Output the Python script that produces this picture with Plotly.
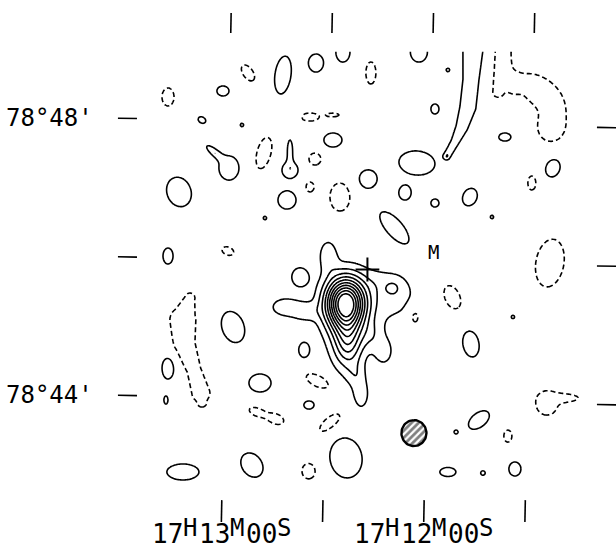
import re
import numpy as np
import plotly.graph_objects as go

# Map centre: RA 17h12m00s, Dec +78d46m00s.  Offsets in arcsec, east and north positive.
DEC0_DEG = 78 + 46 / 60
GRID_ROT_DEG = 1.1          # sky grid rotation relative to the map axes

# Contour levels, in units of the lowest contour
pos_levels = [1, 2, 3, 4, 5, 6, 7, 8, 9, 10]
neg_levels = [-1]

# Main radio source: elliptical Gaussian components
# (x, y offset in arcsec, peak, sigma along major / minor axis in arcsec, PA in deg N through E)
src_x    = [72.2, 70.0, 71.7, 87.3, 124.6, 107.3, 32.0, 31.0, 45.0, 38.8, 49.2, 58.7, 63.1]
src_y    = [-34.9, -68.7, -54.0, 6.7, -38.4, -42.7, -27.5, -22.0, -17.6, -77.4, -62.6, -114.6, -97.3]
src_peak = [10.3, 3.5, 1.0, 1.6, 1.6, 1.3, 1.3, 1.0, 0.3, 1.4, 1.0, 1.6, 1.0]
src_smaj = [15.2, 15.6, 30.3, 10.4, 10.4, 8.0, 22.0, 5.0, 8.0, 8.7, 9.0, 9.5, 8.0]
src_smin = [11.8, 8.7, 17.3, 6.0, 6.9, 6.0, 21.0, 5.0, 6.0, 6.0, 7.0, 5.2, 6.0]
src_pa   = [0, 0, 0, 0, 90, 90, 90, 0, 90, 0, 0, 0, 0]

# Compact features across the field (positive and negative)
blob_x = [225.9, 178.3, 156.6, 126.3, 97.7, 74.3, 50.1, 8.5, -16.6, -84.2,
          -66.0, -107.6, -89.4, -35.7, -54.8, -105.0, 196.5, 161.8, 112.4, 102.9,
          83.0, -5.4, 83.0, 173.1, 186.1, 142.8, 120.2, 120.2, 98.6, 10.2,
          216.4, 122.8, 141.9, 52.7, 102.9, 76.9, 20.6, -5.4, 30.1, 225.9,
          174.0, 111.6, 11.9, -20.1, -73.0, -36.6, -102.4, -118.9, -43.5, -23.6,
          -68.6, -74.7, -47.0, -16.6, 225.9, 227.7, 169.6, 146.2, 148.8, 132.4,
          213.0, 153.2, 71.7, 85.6, 96.0, 103.8, 103.8, 108.1, -97.2, -73.0,
          -105.9, -110.2]
blob_y = [143.6, 148.8, 164.4, 162.6, 173.0, 182.5, 164.4, 182.5, 167.0, 129.7,
          108.9, 82.0, 69.1, 56.9, 39.6, -0.3, 123.6, 119.3, 128.0, 126.2,
          128.0, 133.2, 106.3, 82.0, 95.9, 95.0, 80.3, 97.6, 89.8, 86.4,
          61.3, 54.3, 38.7, 72.5, 65.6, 56.9, 60.4, 51.7, 30.9, 5.8,
          10.1, -12.4, -47.0, -29.7, -47.0, -70.4, -121.6, -117.2, -136.3, -146.7,
          -150.2, -178.7, -182.2, -181.3, -91.2, -119.0, -55.7, -104.2, -129.4, -135.4,
          -181.3, -175.3, -169.2, -138.9, -102.5, -123.3, -180.5, -75.6, 147.9, 154.8,
          116.5, 130.5]
blob_peak = [-1.8, 1.8, -1.8, 1.8, 1.8, 1.8, -1.8, 1.8, 1.3, 1.3,
             1.8, 1.8, -1.8, 1.8, 1.3, -1.8, 1.8, 1.3, 1.3, -1.8,
             -1.8, 1.8, 1.8, 1.8, 1.8, -1.8, 1.8, 1.8, -1.8, 1.8,
             1.8, 1.8, 1.3, 1.8, -1.8, -1.8, 1.8, 1.8, 1.8, 1.8,
             -1.8, 1.8, -1.8, -1.8, 1.3, 1.8, -1.8, -1.8, 1.8, 1.3,
             -1.8, 1.8, 1.4, 1.8, 1.8, 1.8, 1.8, 1.8, -1.8, -1.8,
             1.8, 1.8, 1.8, -1.8, -1.8, 1.8, -1.8, 1.8, -1.8, -1.8,
             -1.8, -1.0]
blob_smaj = [7.2, 4.8, 7.2, 15.2, 7.2, 8.0, 8.8, 8.0, 2.0, 2.0,
             4.8, 7.2, 5.6, 7.2, 2.0, 19.2, 3.2, 2.0, 1.8, 7.2,
             4.8, 4.0, 7.2, 9.6, 7.2, 12.8, 6.4, 8.0, 4.8, 14.4,
             12.0, 7.2, 2.0, 7.2, 4.0, 11.2, 5.6, 3.2, 15.2, 6.4,
             4.8, 7.2, 6.4, 10.4, 2.0, 10.4, 9.6, 9.6, 9.6, 2.0,
             4.8, 5.6, 2.4, 6.4, 8.8, 3.2, 12.8, 8.8, 6.4, 6.4,
             12.8, 10.4, 16.0, 11.2, 10.4, 4.0, 6.4, 5.6, 20.0, 5.6,
             10.4, 4.0]
blob_smin = [4.8, 4.0, 4.0, 6.4, 6.0, 5.6, 4.0, 6.8, 2.0, 2.0,
             3.2, 5.6, 3.2, 5.6, 2.0, 11.2, 2.4, 2.0, 1.8, 3.2,
             1.4, 3.2, 5.6, 8.0, 2.4, 5.6, 6.4, 2.0, 4.8, 9.6,
             9.6, 7.2, 2.0, 7.2, 3.2, 8.0, 4.8, 3.2, 6.4, 4.0,
             3.2, 6.4, 4.0, 6.4, 2.0, 6.4, 8.8, 2.8, 5.6, 2.0,
             3.2, 4.8, 2.4, 3.6, 4.8, 1.6, 8.8, 7.2, 3.2, 4.0,
             6.4, 8.0, 12.8, 4.8, 4.8, 3.2, 5.6, 4.0, 11.0, 4.8,
             10.0, 3.2]
blob_pa = [0, 90, 35, -8, 0, 0, 0, 0, 0, 0,
           90, -20, 0, -25, 0, -10, 60, 0, 0, 90,
           90, 0, 90, 0, 50, -15, 0, 0, 0, 85,
           20, 0, 0, 0, 0, 0, 0, 0, 42, 0,
           70, 0, 0, 25, 0, 10, 0, 90, -52, 0,
           0, 0, 0, 90, 0, 0, 20, 90, 70, 70,
           90, 35, 10, -50, 65, 90, 0, 0, 55, 0,
           0, 0]

# Elongated ridges (x, y in arcsec, width sigma in arcsec)
ridge_n_x = [-39.2, -38.3, -36.6, -34.0, -28.8, -22.7, -15.8]
ridge_n_y = [188.6, 181.7, 158.3, 134.9, 117.6, 104.6, 92.4]
ridge_n_w = [8.0, 8.0, 6.4, 6.4, 4.8, 3.2, 2.4]
ridge_n_peak = 1.8

ridge_ne_x = [-64.3, -63.4, -60.0]
ridge_ne_y = [188.6, 167.0, 147.9]
ridge_ne_w = [6.4, 5.6, 4.0]
ridge_ne_peak = -1.8

ridge_w_x = [206.9, 213.0, 212.1, 203.4, 197.4, 196.5]
ridge_w_y = [-30.6, -49.6, -69.6, -93.0, -112.9, -120.7]
ridge_w_w = [4.0, 10.4, 8.8, 5.6, 7.2, 4.0]
ridge_w_peak = -1.8

# Coordinate grid ticks
ra_tick_sec = [60, 30, 0, -30]               # RA offset from 17h12m00s, seconds of time
ra_tick_labels = ["17H13M00S", "", "17H12M00S", ""]
dec_tick_arcmin = [2, 0, -2]                 # Dec offset from 78d46m
dec_tick_labels = ["78°48'", "", "78°44'"]

# Restoring beam (FWHM, arcsec) and its position
beam_x, beam_y = 12.8, -147.6
beam_major, beam_minor, beam_pa = 22.5, 21.7, 0

# Optical position and the marked object
cross_x, cross_y = [53.1], [-5.9]
mark_x, mark_y, mark_text = -4.1, 9.3, "M"

# ---------------------------------------------------------------------------
gx = np.arange(-137.0, 243.01, 1.0)
gy = np.arange(-190.0, 183.01, 1.0)
XX, YY = np.meshgrid(gx, gy)


def gauss(x0, y0, peak, smaj, smin, pa):
    t = np.radians(pa)
    dx, dy = XX - x0, YY - y0
    u = dx * np.sin(t) + dy * np.cos(t)
    v = dx * np.cos(t) - dy * np.sin(t)
    return peak * np.exp(-0.5 * (u ** 2 / smaj ** 2 + v ** 2 / smin ** 2))


def ridge(xs, ys, ws, peak):
    best = np.zeros_like(XX)
    for i in range(len(xs) - 1):
        ax, ay, bx, by = xs[i], ys[i], xs[i + 1], ys[i + 1]
        vx, vy = bx - ax, by - ay
        t = np.clip(((XX - ax) * vx + (YY - ay) * vy) / (vx * vx + vy * vy), 0, 1)
        s = ws[i] + t * (ws[i + 1] - ws[i])
        d2 = (XX - ax - t * vx) ** 2 + (YY - ay - t * vy) ** 2
        best = np.maximum(best, np.exp(-0.5 * d2 / s ** 2))
    return peak * best


field = np.zeros_like(XX)
for c in zip(src_x, src_y, src_peak, src_smaj, src_smin, src_pa):
    field += gauss(*c)
for c in zip(blob_x, blob_y, blob_peak, blob_smaj, blob_smin, blob_pa):
    field += gauss(*c)
field += ridge(ridge_n_x, ridge_n_y, ridge_n_w, ridge_n_peak)
field += ridge(ridge_ne_x, ridge_ne_y, ridge_ne_w, ridge_ne_peak)
field += ridge(ridge_w_x, ridge_w_y, ridge_w_w, ridge_w_peak)
field = np.round(field, 3)

black = [[0, "black"], [1, "black"]]
fig = go.Figure()
fig.add_trace(go.Contour(
    x=gx, y=gy, z=field, autocontour=False,
    contours=dict(start=min(pos_levels), end=max(pos_levels),
                  size=pos_levels[1] - pos_levels[0], coloring="lines"),
    colorscale=black, showscale=False, hoverinfo="skip",
    line=dict(width=1.6, smoothing=1)))
fig.add_trace(go.Contour(
    x=gx, y=gy, z=field, autocontour=False,
    contours=dict(start=min(neg_levels), end=max(neg_levels), size=1, coloring="lines"),
    colorscale=black, showscale=False, hoverinfo="skip",
    line=dict(width=1.6, dash="5px,3px", smoothing=1)))

# Tick marks along RA meridians and Dec parallels of the rotated grid
rot = np.radians(GRID_ROT_DEG)
cos_d = np.cos(np.radians(DEC0_DEG))
top_y = (216.3, 199.0)
bot_y = (-205.7, -224.7)
left_x = (269.3, 252.8)
right_x = (-145.8, -175.0)
y_floor = -248.9                             # lower edge of the drawing

tx, ty = [], []
ra_xi = [s * 15 * cos_d for s in ra_tick_sec]
for xi in ra_xi:
    for (ya, yb) in (top_y, bot_y):
        tx += [xi / np.cos(rot) - ya * np.tan(rot), xi / np.cos(rot) - yb * np.tan(rot), None]
        ty += [ya, yb, None]
dec_eta = [d * 60 for d in dec_tick_arcmin]
for eta in dec_eta:
    for (xa, xb) in (left_x, right_x):
        tx += [xa, xb, None]
        ty += [eta / np.cos(rot) + xa * np.tan(rot), eta / np.cos(rot) + xb * np.tan(rot), None]
fig.add_trace(go.Scatter(x=tx, y=ty, mode="lines", line=dict(color="black", width=1.6),
                         hoverinfo="skip", showlegend=False))

# Beam: hatched ellipse
th = np.linspace(0, 2 * np.pi, 73)
bpa = np.radians(beam_pa)
bu, bv = 0.5 * beam_major * np.cos(th), 0.5 * beam_minor * np.sin(th)
fig.add_trace(go.Scatter(
    x=beam_x + bu * np.sin(bpa) + bv * np.cos(bpa),
    y=beam_y + bu * np.cos(bpa) - bv * np.sin(bpa),
    mode="lines", fill="toself", fillcolor="white",
    fillpattern=dict(shape="/", fgcolor="black", bgcolor="white", size=5, solidity=0.55),
    line=dict(color="black", width=2.4), hoverinfo="skip", showlegend=False))

# Optical position
fig.add_trace(go.Scatter(x=cross_x, y=cross_y, mode="markers",
                         marker=dict(symbol="cross-thin", size=17,
                                     line=dict(color="black", width=2)),
                         hoverinfo="skip", showlegend=False))

font = "DejaVu Sans Mono"
ann = []
for eta, lab in zip(dec_eta, dec_tick_labels):
    if lab:
        ann.append(dict(x=left_x[0], y=eta / np.cos(rot) + left_x[0] * np.tan(rot),
                        text=lab, showarrow=False, xanchor="right", yanchor="middle",
                        xshift=-23, font=dict(family=font, size=24, color="black")))

# RA labels: digits on the baseline, raised unit letters, fixed-pitch layout
RA_SIZE = 26
UNIT_SIZE = 24
pitch = 0.602 * RA_SIZE
for xi, lab in zip(ra_xi, ra_tick_labels):
    if not lab:
        continue
    xb = xi / np.cos(rot) - bot_y[1] * np.tan(rot)
    pos = -0.5 * len(lab) * pitch
    for run in re.findall(r"\d+|\D+", lab):
        if run.isdigit():
            ann.append(dict(x=xb, y=y_floor, text=run, showarrow=False,
                            xanchor="left", yanchor="bottom", borderpad=0, xshift=pos,
                            font=dict(family=font, size=RA_SIZE, color="black")))
        else:
            for k, ch in enumerate(run):
                ann.append(dict(x=xb, y=y_floor, text=ch, showarrow=False,
                                xanchor="center", yanchor="bottom", borderpad=0,
                                xshift=pos + (k + 0.5) * pitch, yshift=7,
                                font=dict(family=font, size=UNIT_SIZE, color="black")))
        pos += len(run) * pitch

ann.append(dict(x=mark_x, y=mark_y, text=mark_text, showarrow=False,
                font=dict(family=font, size=19, color="black")))

fig.update_layout(
    width=616, height=550, margin=dict(l=0, r=0, t=0, b=0),
    paper_bgcolor="white", plot_bgcolor="white", showlegend=False,
    xaxis=dict(range=[371.5, -162.3], visible=False, fixedrange=True),
    yaxis=dict(range=[y_floor, 227.6], visible=False, fixedrange=True),
    annotations=ann)

fig.write_html("out.html")
